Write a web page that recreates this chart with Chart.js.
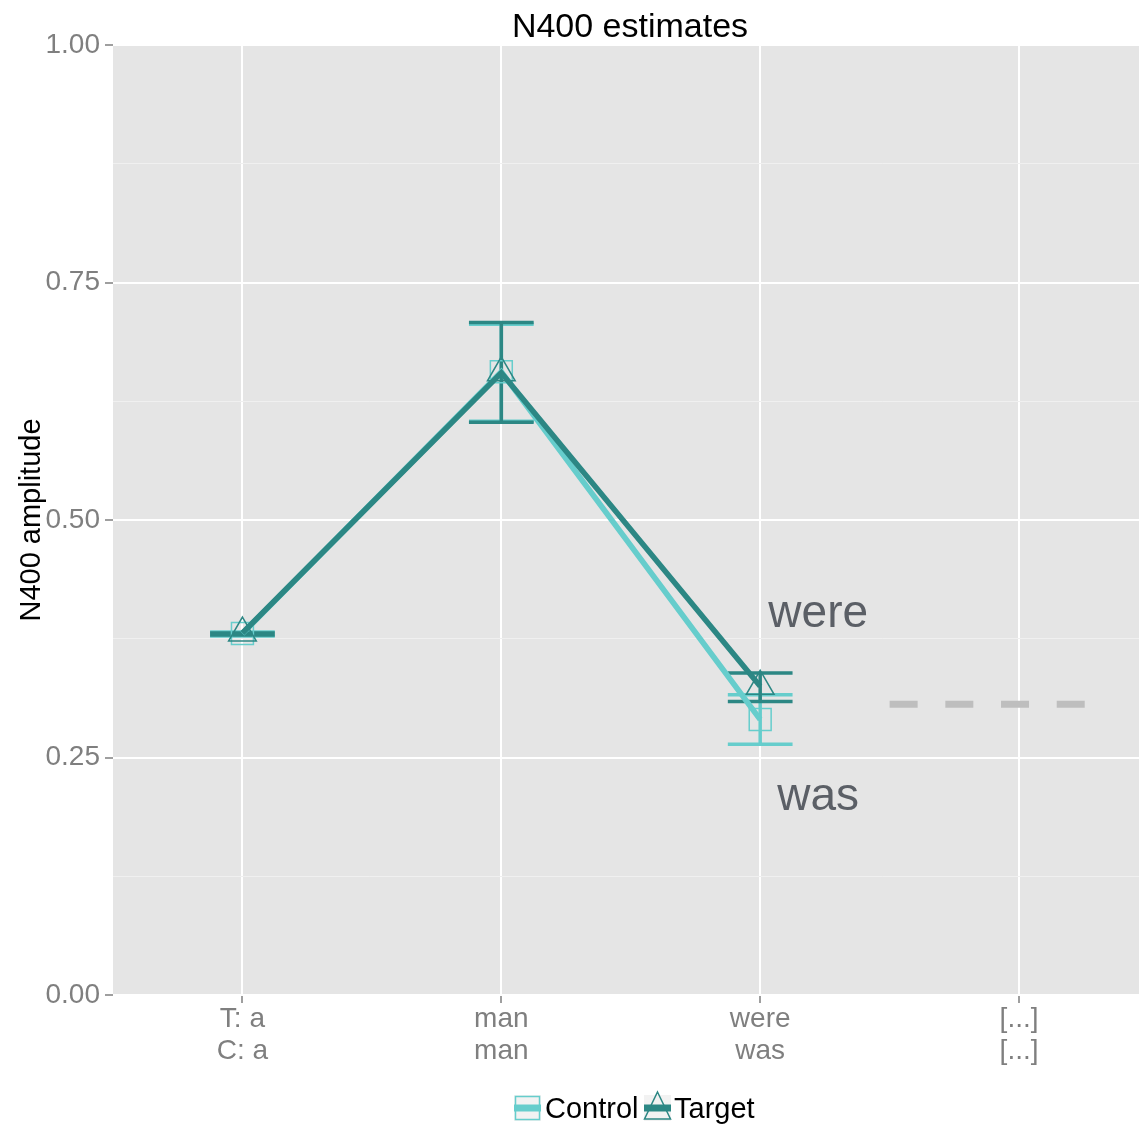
<!DOCTYPE html>
<html>
<head>
<meta charset="utf-8">
<title>N400 estimates</title>
<script src="https://cdn.jsdelivr.net/npm/chart.js@4/dist/chart.umd.min.js"></script>
<style>
  html, body { margin: 0; padding: 0; background: #fff; }
  #wrap { width: 1139px; height: 1125px; }
</style>
</head>
<body>
<div id="wrap"><canvas id="chart" width="1139" height="1125"></canvas></div>
<script>
// word positions on the x axis and their two label rows
const wordPos = [0, 1, 2, 3];
const targetWords = ['T: a', 'man', 'were', '[...]'];
const controlWords = ['C: a', 'man', 'was', '[...]'];

// estimated N400 amplitude with error bars (first three words)
const controlMean = [0.3805, 0.656, 0.290];
const controlLow = [0.378, 0.604, 0.264];
const controlHigh = [0.382, 0.706, 0.316];
const targetMean = [0.381, 0.655, 0.325];
const targetLow = [0.379, 0.603, 0.309];
const targetHigh = [0.381, 0.708, 0.339];

// continuation after the critical word
const restX = [2.5, 3.255];
const restY = [0.306, 0.306];

const yTicks = [0, 0.125, 0.25, 0.375, 0.5, 0.625, 0.75, 0.875, 1];

const lightTeal = '#66cdcc';
const darkTeal = '#2c8784';
const FONT = "'Liberation Sans', Arial, Helvetica, sans-serif";

const toPoints = function (xs, ys) {
  return ys.map((y, i) => ({ x: xs[i], y: y }));
};

const isMajor = function (v) {
  return Math.abs(v * 4 - Math.round(v * 4)) < 1e-6;
};

// grey panel behind the grid
const panelPlugin = {
  id: 'panel',
  beforeDraw(chart) {
    const { ctx, chartArea: a } = chart;
    ctx.save();
    ctx.fillStyle = '#fff';
    ctx.fillRect(0, 0, chart.width, chart.height);
    ctx.fillStyle = '#e5e5e5';
    ctx.fillRect(a.left, a.top, a.right - a.left, a.bottom - a.top);
    ctx.restore();
  },
};

// error bars with caps, drawn under the lines
const errorBarPlugin = {
  id: 'errorBars',
  beforeDatasetsDraw(chart) {
    const { ctx, scales } = chart;
    const sets = [
      { low: controlLow, high: controlHigh, color: lightTeal },
      { low: targetLow, high: targetHigh, color: darkTeal },
    ];
    ctx.save();
    ctx.lineWidth = 3.5;
    ctx.lineCap = 'butt';
    for (const s of sets) {
      ctx.strokeStyle = s.color;
      for (let i = 0; i < s.low.length; i++) {
        const x = scales.x.getPixelForValue(wordPos[i]);
        const x0 = scales.x.getPixelForValue(wordPos[i] - 0.125);
        const x1 = scales.x.getPixelForValue(wordPos[i] + 0.125);
        const yl = scales.y.getPixelForValue(s.low[i]);
        const yh = scales.y.getPixelForValue(s.high[i]);
        ctx.beginPath();
        ctx.moveTo(x, yl);
        ctx.lineTo(x, yh);
        ctx.moveTo(x0, yl);
        ctx.lineTo(x1, yl);
        ctx.moveTo(x0, yh);
        ctx.lineTo(x1, yh);
        ctx.stroke();
      }
    }
    ctx.restore();
  },
};

// title, axis title, word annotations and legend
const textPlugin = {
  id: 'texts',
  afterDraw(chart) {
    const { ctx, scales, chartArea: a } = chart;
    ctx.save();

    ctx.fillStyle = '#000';
    ctx.font = '34px ' + FONT;
    ctx.textAlign = 'center';
    ctx.textBaseline = 'alphabetic';
    ctx.fillText('N400 estimates', (a.left + a.right) / 2 + 4, 37);

    ctx.save();
    ctx.translate(40, (a.top + a.bottom) / 2);
    ctx.rotate(-Math.PI / 2);
    ctx.font = '29px ' + FONT;
    ctx.textBaseline = 'alphabetic';
    ctx.fillText('N400 amplitude', 0, 0);
    ctx.restore();

    ctx.fillStyle = '#5b5f66';
    ctx.font = '46px ' + FONT;
    const wx = scales.x.getPixelForValue(2.224);
    ctx.fillText('were', wx, scales.y.getPixelForValue(0.3874));
    ctx.fillText('was', wx, scales.y.getPixelForValue(0.1947));

    // legend keys
    const drawKey = function (x, color, shape) {
      const y = 1095, w = 27, h = 26;
      ctx.fillStyle = '#f2f2f2';
      ctx.fillRect(x, y, w, h);
      ctx.fillStyle = color;
      ctx.fillRect(x, y + h / 2 - 3.5, w, 7);
      ctx.strokeStyle = color;
      ctx.lineWidth = 1.5;
      ctx.beginPath();
      if (shape === 'rect') {
        ctx.rect(x + 1.5, y + 1.5, w - 3, h - 3);
      } else {
        ctx.moveTo(x + w / 2, y - 3);
        ctx.lineTo(x + w - 0.5, y + h - 2);
        ctx.lineTo(x + 0.5, y + h - 2);
        ctx.closePath();
      }
      ctx.stroke();
    };
    drawKey(514, lightTeal, 'rect');
    drawKey(644, darkTeal, 'triangle');
    ctx.fillStyle = '#000';
    ctx.font = '29px ' + FONT;
    ctx.textAlign = 'left';
    ctx.fillText('Control', 545, 1118);
    ctx.fillText('Target', 674, 1118);

    ctx.restore();
  },
};

const chart = new Chart(document.getElementById('chart'), {
  type: 'line',
  data: {
    datasets: [
      {
        label: 'Target',
        data: toPoints(wordPos, targetMean),
        borderColor: darkTeal,
        borderWidth: 5.5,
        pointStyle: 'triangle',
        pointRadius: 16,
        pointBorderWidth: 1.5,
        pointBorderColor: darkTeal,
        pointBackgroundColor: 'rgba(0,0,0,0)',
        order: 0,
      },
      {
        label: 'Control',
        data: toPoints(wordPos, controlMean),
        borderColor: lightTeal,
        borderWidth: 5.5,
        pointStyle: 'rect',
        pointRadius: 15.5,
        pointBorderWidth: 1.5,
        pointBorderColor: lightTeal,
        pointBackgroundColor: 'rgba(0,0,0,0)',
        order: 1,
      },
      {
        label: 'rest',
        data: toPoints(restX, restY),
        borderColor: '#bebebe',
        borderWidth: 7,
        borderDash: [28, 27.7],
        borderCapStyle: 'butt',
        pointRadius: 0,
        order: 2,
      },
    ],
  },
  options: {
    responsive: false,
    animation: false,
    events: [],
    clip: false,
    layout: {
      autoPadding: false,
      padding: { top: 45, bottom: 55, left: 0, right: 0 },
    },
    plugins: {
      legend: { display: false },
      title: { display: false },
      tooltip: { enabled: false },
    },
    scales: {
      x: {
        type: 'linear',
        min: -0.5,
        max: 3.4633,
        afterBuildTicks: (scale) => {
          scale.ticks = wordPos.map((v) => ({ value: v }));
        },
        afterFit: (scale) => {
          scale.height = 75;
          scale.paddingLeft = 0;
          scale.paddingRight = 0;
        },
        border: { display: false },
        grid: {
          color: '#ffffff',
          lineWidth: 2,
          tickLength: 8,
          tickColor: '#7f7f7f',
          tickWidth: 1.5,
        },
        ticks: {
          padding: 0,
          color: '#7f7f7f',
          font: { family: FONT, size: 28, lineHeight: 1.15 },
          maxRotation: 0,
          callback: (v) => {
            const i = wordPos.indexOf(v);
            return i < 0 ? '' : [targetWords[i], controlWords[i]];
          },
        },
      },
      y: {
        type: 'linear',
        min: 0,
        max: 1,
        afterBuildTicks: (scale) => {
          scale.ticks = yTicks.map((v) => ({ value: v }));
        },
        afterFit: (scale) => {
          scale.width = 113;
          scale.paddingTop = 0;
          scale.paddingBottom = 0;
        },
        border: { display: false },
        grid: {
          color: (c) => (isMajor(c.tick.value) ? '#ffffff' : '#f0f0f0'),
          lineWidth: (c) => (isMajor(c.tick.value) ? 2 : 1),
          tickLength: 8,
          tickColor: (c) => (isMajor(c.tick.value) ? '#7f7f7f' : 'rgba(0,0,0,0)'),
          tickWidth: 1.5,
        },
        ticks: {
          padding: 5,
          color: '#7f7f7f',
          font: { family: FONT, size: 28 },
          callback: (v) => (isMajor(v) ? v.toFixed(2) : ''),
        },
      },
    },
  },
  plugins: [panelPlugin, errorBarPlugin, textPlugin],
});
</script>
</body>
</html>
